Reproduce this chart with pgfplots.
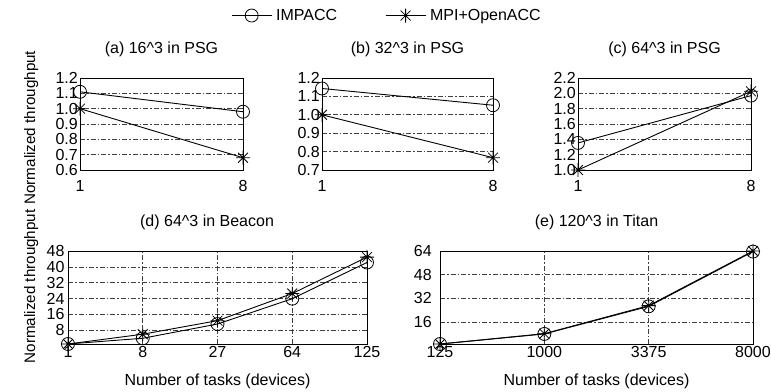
\documentclass[border=0pt]{standalone}
\usepackage{pgfplots}
\pgfplotsset{compat=1.18}
\usepackage{fontspec}
\setmainfont{Liberation Sans}
\pgfdeclareplotmark{gstar}{%
 \pgfpathmoveto{\pgfqpoint{-\pgfplotmarksize}{0pt}}\pgfpathlineto{\pgfqpoint{\pgfplotmarksize}{0pt}}%
 \pgfpathmoveto{\pgfqpoint{0pt}{-\pgfplotmarksize}}\pgfpathlineto{\pgfqpoint{0pt}{\pgfplotmarksize}}%
 \pgfpathmoveto{\pgfqpoint{-0.707\pgfplotmarksize}{-0.707\pgfplotmarksize}}\pgfpathlineto{\pgfqpoint{0.707\pgfplotmarksize}{0.707\pgfplotmarksize}}%
 \pgfpathmoveto{\pgfqpoint{-0.707\pgfplotmarksize}{0.707\pgfplotmarksize}}\pgfpathlineto{\pgfqpoint{0.707\pgfplotmarksize}{-0.707\pgfplotmarksize}}%
 \pgfusepathqstroke}
\pgfplotsset{
 myax/.style={scale only axis, anchor=south west, clip=false,
  font=\fontsize{16}{19}\selectfont,
  /pgf/number format/assume math mode=true,
  axis line style={line width=0.8pt},
  major tick length=0pt,
  ymajorgrids,
  grid style={dash pattern=on 5pt off 2pt on 1.5pt off 2pt, line width=0.6pt, black!75},
  title style={at={(axis description cs:0.5,1)}, anchor=center, yshift=23pt},
  label style={font=\fontsize{15.2}{18}\selectfont},
  legend image code/.code={\draw[mark repeat=2,mark phase=2,##1] plot coordinates {(0pt,0pt)(20pt,0pt)(40pt,0pt)};},
 },
 toprow/.style={myax, height=92pt, xmin=0, xmax=1, xtick={0,1}, xticklabels={1,8},
  xticklabel style={yshift=-6.5pt},
  yticklabel style={/pgf/number format/fixed, /pgf/number format/fixed zerofill, /pgf/number format/precision=1, xshift=1.3pt}},
 botrow/.style={myax, height=93pt, xmajorgrids, ymin=1,
  xticklabel style={yshift=1pt},
  xlabel={Number of tasks (devices)},
  xlabel style={font=\fontsize{16}{19}\selectfont, at={(axis description cs:0.5,0)}, anchor=north, inner sep=0pt, yshift=-30pt}},
 impacc/.style={black, line width=0.9pt, mark=o, mark size=6.5pt, mark options={solid, line width=0.8pt}},
 mpi/.style={black, line width=0.9pt, mark=gstar, mark size=7pt, mark options={solid, line width=0.8pt}},
}
\begin{document}
\begin{tikzpicture}
\useasboundingbox (0pt,0pt) rectangle (771pt,391pt);
% (a)
\begin{axis}[toprow, at={(80pt,221pt)}, width=163pt,
  ymin=0.6, ymax=1.2, ytick={0.6,0.7,0.8,0.9,1.0,1.1,1.2},
  title={(a) 16\textasciicircum 3 in PSG},
  ylabel={Normalized throughput},
  ylabel style={at={(axis description cs:-0.30,0.46)}, anchor=center}]
\addplot[impacc] coordinates {(0,1.11) (1,0.98)};
\addplot[mpi] coordinates {(0,1.0) (1,0.68)};
\end{axis}
% (b)
\begin{axis}[toprow, at={(322pt,221pt)}, width=171pt,
  ymin=0.7, ymax=1.2, ytick={0.7,0.8,0.9,1.0,1.1,1.2},
  title={(b) 32\textasciicircum 3 in PSG},
  legend columns=2,
  legend style={at={(axis description cs:0.386,1.679)}, anchor=center, draw=none, fill=none,
    font=\fontsize{16}{19}\selectfont,
    nodes={inner xsep=4pt},
    /tikz/every even column/.append style={column sep=44pt}}]
\addplot[impacc] coordinates {(0,1.143) (1,1.052)};
\addlegendentry{IMPACC}
\addplot[mpi] coordinates {(0,1.0) (1,0.767)};
\addlegendentry{MPI+OpenACC}
\end{axis}
% (c)
\begin{axis}[toprow, at={(578pt,221pt)}, width=173pt,
  ymin=1.0, ymax=2.2, ytick={1.0,1.2,1.4,1.6,1.8,2.0,2.2},
  title={(c) 64\textasciicircum 3 in PSG}]
\addplot[impacc] coordinates {(0,1.353) (1,1.97)};
\addplot[mpi] coordinates {(0,1.0) (1,2.026)};
\end{axis}
% (d)
\begin{axis}[botrow, at={(68pt,47pt)}, width=299pt,
  xmin=0, xmax=4, xtick={0,1,2,3,4}, xticklabels={1,8,27,64,125},
  ymax=48, ytick={8,16,24,32,40,48},
  title={(d) 64\textasciicircum 3 in Beacon},
  title style={at={(axis description cs:0.465,1)}},
  ylabel={Normalized throughput},
  ylabel style={at={(axis description cs:-0.1235,0.62)}, anchor=center}]
\addplot[impacc] coordinates {(0,1) (1,3.9) (2,11.1) (3,23.9) (4,42.2)};
\addplot[mpi] coordinates {(0,1) (1,5.95) (2,12.8) (3,26.5) (4,44.9)};
\end{axis}
% (e)
\begin{axis}[botrow, at={(440pt,47pt)}, width=313pt,
  xmin=0, xmax=3, xtick={0,1,2,3}, xticklabels={125,1000,3375,8000},
  ymax=64, ytick={16,32,48,64},
  yticklabel style={xshift=-4.7pt},
  title={(e) 120\textasciicircum 3 in Titan}]
\addplot[impacc] coordinates {(0,1) (1,7.8) (2,26.5) (3,63.6)};
\addplot[mpi] coordinates {(0,1) (1,8) (2,27) (3,64)};
\end{axis}
\end{tikzpicture}
\end{document}
